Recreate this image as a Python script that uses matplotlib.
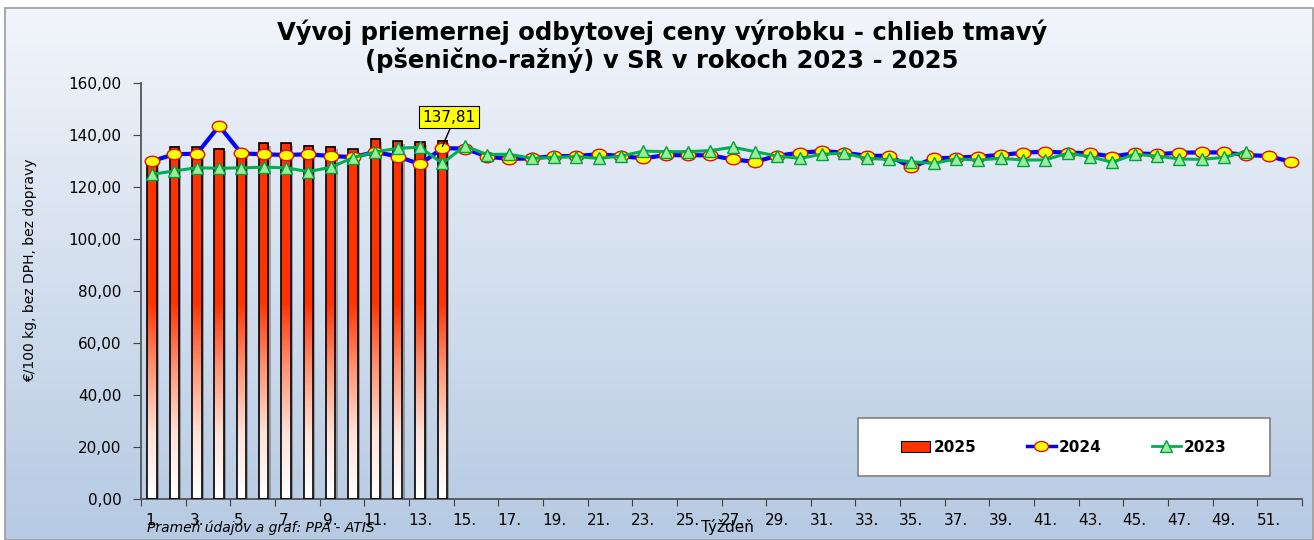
import numpy as np
import matplotlib
matplotlib.use("Agg")
from matplotlib import pyplot as plt
from matplotlib.patches import Rectangle
from matplotlib.path import Path
from matplotlib.colors import LinearSegmentedColormap
from matplotlib.lines import Line2D

# --- data ---
tyzdne = np.arange(1, 53)
tyzden_labels = [f"{w}." for w in range(1, 53, 2)]

ceny_2025 = [130.5, 135.5, 135.3, 134.7, 132.8, 136.8, 136.9, 135.8, 135.5, 134.5,
             138.5, 137.6, 137.2, 137.81]

ceny_2024 = [130.0, 132.6, 132.8, 143.5, 132.9, 132.6, 132.3, 132.6, 131.9, 131.5,
             133.5, 131.7, 128.8, 134.9, 134.8, 131.7, 130.8, 131.0, 131.9, 131.9,
             132.6, 131.9, 131.0, 132.3, 132.2, 132.2, 130.6, 129.7, 132.0, 133.2,
             133.8, 133.2, 132.0, 132.0, 127.6, 131.0, 131.3, 131.7, 132.3, 133.2,
             133.6, 133.2, 133.0, 131.7, 133.0, 132.6, 133.2, 133.3, 133.3, 132.3,
             131.9, 129.7]

ceny_2023 = [124.9, 126.2, 127.4, 127.2, 127.4, 127.6, 127.4, 125.9, 127.6, 131.3,
             133.5, 134.9, 135.3, 129.1, 135.8, 132.5, 132.6, 131.0, 131.4, 131.7,
             131.0, 131.9, 133.8, 133.6, 133.6, 134.0, 135.3, 133.6, 131.9, 131.0,
             132.6, 133.0, 131.0, 130.6, 129.7, 129.1, 130.8, 130.4, 131.0, 130.4,
             130.4, 133.0, 131.7, 129.5, 132.6, 131.9, 130.8, 130.6, 131.4, 133.6]

W, H = 1314, 540
fig = plt.figure(figsize=(W / 100, H / 100), dpi=100, facecolor="white")

# gradient background of the chart area
bg = fig.add_axes([5 / W, 0, 1 - 6 / W, 1 - 8 / H], zorder=-10)
bg_cmap = LinearSegmentedColormap.from_list("bg", ["#f2f5fb", "#b6cae3"])
bg.imshow(np.linspace(0, 1, 256).reshape(-1, 1), aspect="auto", cmap=bg_cmap,
          extent=[0, 1, 0, 1], origin="upper")
bg.axis("off")
fig.patches.append(Rectangle((5 / W, 0), 1 - 6 / W, 1 - 8 / H, transform=fig.transFigure,
                             fill=False, ec="#9a9a9a", lw=1.2, zorder=-5))

ax = fig.add_axes([141 / W, (H - 499) / H, 1161 / W, 416 / H])
ax.set_facecolor("none")

# bars 2025 with vertical gradient
bar_cmap = LinearSegmentedColormap.from_list(
    "bar", [(0, "#ffffff"), (0.185, "#ffe2d8"), (0.38, "#ff9070"), (0.56, "#ff3300"), (1, "#ff3300")])
bw = 0.42
for w, h in zip(tyzdne[:len(ceny_2025)], ceny_2025):
    ax.add_patch(Rectangle((w - bw / 2 + 0.1, -1), bw, h, fc="#6a6a6a", ec="none", alpha=0.55, zorder=1.5))
    vals = np.linspace(0, h, 200).reshape(-1, 1) / 135.0
    ax.imshow(vals, cmap=bar_cmap, vmin=0, vmax=1, extent=[w - bw / 2, w + bw / 2, 0, h],
              origin="lower", aspect="auto", interpolation="bilinear", zorder=2)
    ax.add_patch(Rectangle((w - bw / 2, 0), bw, h, fill=False, ec="black", lw=1.2, zorder=3))

# lines
uc = Path.unit_circle()
elipsa = Path(uc.vertices * np.array([1.0, 0.72]), uc.codes)
ax.plot(tyzdne, ceny_2024, color="#0000ff", lw=3, marker=elipsa, ms=10.5,
        mfc="#ffff00", mec="#e01010", mew=1, zorder=4)
ax.plot(tyzdne[:len(ceny_2023)], ceny_2023, color="#00b050", lw=2.2, marker="^", ms=8.5,
        mfc="#99ee99", mec="#00a040", mew=1, zorder=5)

# axes
ax.set_xlim(0.5, 52.5)
ax.set_ylim(0, 160)
ax.set_xticks(np.arange(0.5, 53, 2))
ax.set_xticklabels([])
ax.set_xticks(np.arange(1, 53, 2), minor=True)
ax.set_xticklabels(tyzden_labels, minor=True, fontsize=11)
ax.tick_params(axis="x", which="major", direction="out", length=5, color="#404040")
ax.tick_params(axis="x", which="minor", length=0, pad=10)
yt = np.arange(0, 161, 20)
ax.set_yticks(yt)
ax.set_yticklabels([f"{v:.2f}".replace(".", ",") for v in yt], fontsize=11)
ax.tick_params(axis="y", direction="out", length=6, pad=8, color="#404040")
for s in ["top", "right"]:
    ax.spines[s].set_visible(False)
for s in ["left", "bottom"]:
    ax.spines[s].set_color("#555555")
    ax.spines[s].set_linewidth(1.3)

# annotation of last value
ax.annotate("137,81", xy=(14, 135.6), xytext=(14.3, 146.9), ha="center", va="center", fontsize=11,
            bbox=dict(boxstyle="square,pad=0.25", fc="#ffff00", ec="black", lw=0.8),
            arrowprops=dict(arrowstyle="-", color="black", lw=1, relpos=(0.55, 0), shrinkA=0, shrinkB=0),
            zorder=7)

# legend
ax.add_patch(Rectangle((0.6176, 0.0553), 0.3548, 0.1394, transform=ax.transAxes,
                       fc="white", ec="#808080", lw=1.2, zorder=6))
handles = [Rectangle((0, 0), 1, 1, fc="#ff3300", ec="black", lw=0.8),
           Line2D([], [], color="#0000ff", lw=2.5, marker=elipsa, ms=10, mfc="#ffff00", mec="#e01010"),
           Line2D([], [], color="#00b050", lw=2, marker="^", ms=8, mfc="#99ee99", mec="#00a040")]
leg = ax.legend(handles, ["2025", "2024", "2023"], loc="center", bbox_to_anchor=(0.795, 0.125),
                ncol=3, frameon=False, prop=dict(weight="bold", size=11), columnspacing=3.3,
                handlelength=1.9, handletextpad=0.2)
leg.set_zorder(8)

# texts
fig.text(662 / W, 1 - 46 / H,
         "Vývoj priemernej odbytovej ceny výrobku - chlieb tmavý\n(pšenično-ražný) v SR v rokoch 2023 - 2025",
         ha="center", va="center", fontsize=17.5, weight="bold", linespacing=1.1)
fig.text(30 / W, 1 - 270 / H, "€/100 kg, bez DPH, bez dopravy", rotation=90, ha="center", va="center",
         fontsize=10, family=["DejaVu Sans Condensed", "DejaVu Sans"])
fig.text(147 / W, 1 - 528 / H, "Prameň údajov a graf: PPA - ATIS", style="italic", fontsize=10, va="center")
fig.text(727 / W, 1 - 527 / H, "Týždeň", ha="center", va="center", fontsize=11)

fig.savefig("out.png", dpi=100)
